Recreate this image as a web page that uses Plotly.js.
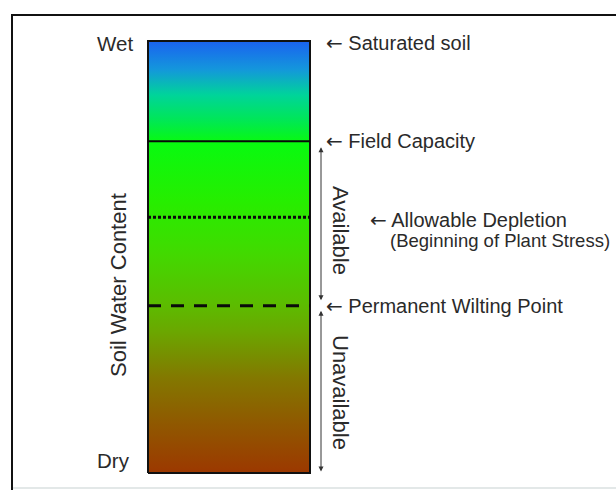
<!DOCTYPE html>
<html>
<head>
<meta charset="utf-8">
<script src="https://cdn.plot.ly/plotly-3.0.1.min.js"></script>
<style>html,body{margin:0;padding:0;background:#fff}#chart{width:616px;height:490px}</style>
</head>
<body>
<div id="chart"></div>
<script>
// ---- data: soil water content levels (0 = dry, 100 = saturated) ----
const levelNames  = ['Dry', 'Permanent Wilting Point', 'Allowable Depletion', 'Field Capacity', 'Saturated soil'];
const levelValues = [0, 38.7, 59.2, 76.8, 100];
const endLabels   = ['Dry', 'Wet'];
const axisTitle   = 'Soil Water Content';
const zoneNames   = ['Available', 'Unavailable'];
const noteText    = '(Beginning of Plant Stress)';

const DRY = levelValues[0], PWP = levelValues[1], AD = levelValues[2], FC = levelValues[3], SAT = levelValues[4];

// ---- style ----
const W = 616, H = 490;
const barLeftPx = 148, barRightPx = 310, barTopPx = 41, barBottomPx = 473;
const pxPerX = barRightPx - barLeftPx;
const pxPerY = (barBottomPx - barTopPx) / (SAT - DRY);
const xRange = [-barLeftPx / pxPerX, (W - barLeftPx) / pxPerX];
const yRange = [DRY - (H - barBottomPx) / pxPerY, DRY + barBottomPx / pxPerY];
const px = v => v / W;
const py = v => 1 - v / H;
const FONT = 'Arial, "Liberation Sans", sans-serif';
const TXT = '#2a2a2a';
const ARROW = '<span style="font-family:\'DejaVu Sans\'">\u2190</span> ';

const gradient = [
  [0.00, '#9c3800'], [0.12, '#8f5a00'], [0.22, '#837800'], [0.33, '#6aa800'],
  [0.39, '#5cbc00'], [0.52, '#3fdc00'], [0.63, '#26ee00'], [0.765, '#08fa10'],
  [0.82, '#00e65a'], [0.875, '#00d49a'], [0.935, '#1496dc'], [1.00, '#1a62f0']
];

const traces = [
  { // soil column with vertical gradient
    type: 'scatter', mode: 'lines',
    x: [0, 1, 1, 0, 0], y: [DRY, DRY, SAT, SAT, DRY],
    fill: 'toself',
    fillgradient: { type: 'vertical', colorscale: gradient, start: DRY, stop: SAT },
    line: { color: '#111', width: 2 }, hoverinfo: 'skip'
  },
  { type: 'scatter', mode: 'lines', x: [0, 1], y: [FC, FC], line: { color: '#0a0a0a', width: 2 }, hoverinfo: 'skip' },
  { type: 'scatter', mode: 'lines', x: [0, 1], y: [AD, AD], line: { color: '#0a0a0a', width: 3, dash: '3px,2px' }, hoverinfo: 'skip' },
  { type: 'scatter', mode: 'lines', x: [0, 1], y: [PWP, PWP], line: { color: '#0a0a0a', width: 3, dash: '13px,10px' }, hoverinfo: 'skip' }
];

const lab = (text, x, y, size, extra) => Object.assign({
  text, xref: 'paper', yref: 'y', x: px(x), y, xanchor: 'left', yanchor: 'middle',
  showarrow: false, font: { family: FONT, size, color: TXT }
}, extra || {});

const arrowX = 321;
const annotations = [
  lab(endLabels[1], 95, SAT, 20.5, { yshift: -2 }),
  lab(endLabels[0], 95, DRY, 20.5, { yshift: 13 }),
  lab(ARROW + levelNames[4], 324, SAT, 20, { yshift: -2 }),
  lab(ARROW + levelNames[3], 324, FC, 20),
  lab(ARROW + levelNames[2], 368, AD, 20, { yshift: -3 }),
  lab(noteText, 388, AD, 18.5, { yshift: -23 }),
  lab(ARROW + levelNames[1], 324, PWP, 20),
  { text: axisTitle, xref: 'paper', yref: 'paper', x: px(118), y: py(285), textangle: -90,
    showarrow: false, xanchor: 'center', yanchor: 'middle', font: { family: FONT, size: 22, color: TXT } },
  { text: zoneNames[0], xref: 'paper', yref: 'y', x: px(341), y: (FC + PWP) / 2 - 1.5, textangle: 90,
    showarrow: false, xanchor: 'center', yanchor: 'middle', font: { family: FONT, size: 22, color: TXT } },
  { text: zoneNames[1], xref: 'paper', yref: 'y', x: px(341), y: (PWP + DRY) / 2 - 0.6, textangle: 90,
    showarrow: false, xanchor: 'center', yanchor: 'middle', font: { family: FONT, size: 22, color: TXT } },
  // double-headed range arrows
  { text: '', xref: 'paper', yref: 'y', x: px(arrowX), y: FC, axref: 'pixel', ax: 0, ayref: 'y', ay: PWP,
    showarrow: true, arrowside: 'end+start', arrowhead: 2, startarrowhead: 2, arrowsize: 1, startarrowsize: 1,
    arrowwidth: 1, arrowcolor: '#333', standoff: 6, startstandoff: 4 },
  { text: '', xref: 'paper', yref: 'y', x: px(arrowX), y: PWP, axref: 'pixel', ax: 0, ayref: 'y', ay: DRY,
    showarrow: true, arrowside: 'end+start', arrowhead: 2, startarrowhead: 2, arrowsize: 1, startarrowsize: 1,
    arrowwidth: 1, arrowcolor: '#333', standoff: 5, startstandoff: 0 }
];

const shapes = [
  { type: 'rect', xref: 'paper', yref: 'paper', x0: px(12), x1: 1.05, y0: -0.05, y1: py(15),
    line: { color: '#111', width: 2 }, layer: 'below' },
  { type: 'line', xref: 'paper', yref: 'paper', x0: px(13), x1: 1, y0: py(488), y1: py(488),
    line: { color: '#e3e8e8', width: 2 }, layer: 'below' }
];

const layout = {
  width: W, height: H,
  margin: { l: 0, r: 0, t: 0, b: 0, pad: 0 },
  paper_bgcolor: '#ffffff', plot_bgcolor: 'rgba(0,0,0,0)',
  showlegend: false, hovermode: false,
  xaxis: { range: xRange, visible: false, fixedrange: true },
  yaxis: { range: yRange, visible: false, fixedrange: true },
  annotations, shapes
};

Plotly.newPlot('chart', traces, layout, { staticPlot: true, displayModeBar: false });
</script>
</body>
</html>
